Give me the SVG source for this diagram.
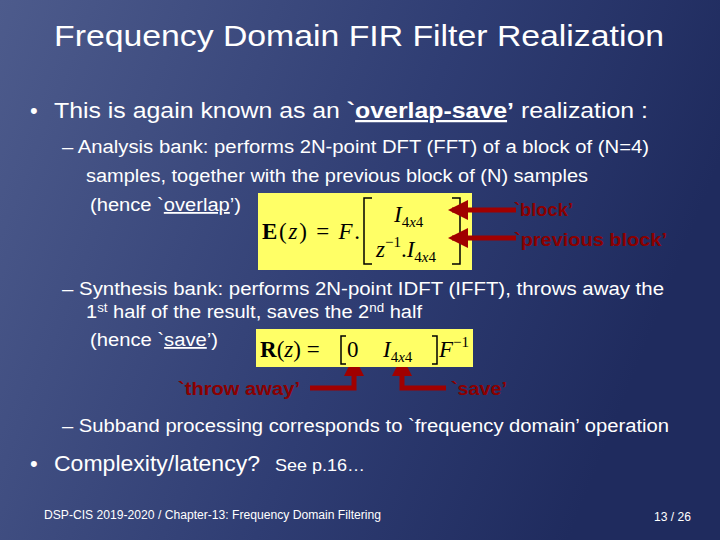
<svg xmlns="http://www.w3.org/2000/svg" width="720" height="540" viewBox="0 0 720 540">
<defs>
<linearGradient id="bg" x1="0" y1="0" x2="1" y2="0.3">
<stop offset="0" stop-color="#4d5b8c"/><stop offset="0.6" stop-color="#2f3d73"/><stop offset="1" stop-color="#1f2b5e"/>
</linearGradient>
<marker id="ah" viewBox="0 0 10 10" refX="8" refY="5" markerWidth="4" markerHeight="4.4" orient="auto"><path d="M0,0L10,5L0,10z" fill="#a00000"/></marker>
</defs>
<style>
.t{font-family:"Liberation Sans",Arial,sans-serif;fill:#fff}
.m{font-family:"Liberation Serif","Times New Roman",serif;fill:#000}
.r{font-family:"Liberation Sans",Arial,sans-serif;fill:#8b0000;font-weight:bold;font-size:18px}
.c{stroke:#a00000;stroke-width:5;fill:none}
</style>
<rect width="720" height="540" fill="url(#bg)"/>
<text class="t" x="54" y="46" font-size="30" textLength="610" lengthAdjust="spacingAndGlyphs">Frequency Domain FIR Filter Realization</text>
<text class="t" x="30" y="118" font-size="22">•</text>
<text class="t" x="54" y="118" font-size="22.5" textLength="594" lengthAdjust="spacingAndGlyphs">This is again known as an <tspan font-weight="bold">`<tspan text-decoration="underline">overlap-save</tspan>’</tspan> realization :</text>
<text class="t" x="62" y="153" font-size="18" textLength="587" lengthAdjust="spacingAndGlyphs">–  Analysis bank: performs 2N-point DFT (FFT) of a block of (N=4)</text>
<text class="t" x="86" y="182" font-size="18" textLength="502" lengthAdjust="spacingAndGlyphs">samples, together with the previous block of (N) samples</text>
<text class="t" x="90" y="211" font-size="18" textLength="151" lengthAdjust="spacingAndGlyphs">(hence `<tspan text-decoration="underline">overlap</tspan>’)</text>
<g id="eq1">
<rect x="258" y="193" width="214" height="77" fill="#ffff66"/>
<text class="m" x="262" y="239" font-size="23" textLength="98" lengthAdjust="spacing"><tspan font-weight="bold">E</tspan>(<tspan font-style="italic">z</tspan>) = <tspan font-style="italic">F</tspan>.</text>
<path d="M372,198h-8v66h8M452,198h8v66h-8" stroke="#000" stroke-width="1.5" fill="none"/>
<text class="m" x="394" y="222" font-size="23" font-style="italic">I<tspan font-size="15" dy="5" font-style="normal">4<tspan font-style="italic">x</tspan>4</tspan></text>
<text class="m" x="376" y="257" font-size="23" font-style="italic">z<tspan font-size="15" dy="-10" font-style="normal">−1</tspan><tspan dy="10" font-style="normal">.</tspan>I<tspan font-size="15" dy="5" font-style="normal">4<tspan font-style="italic">x</tspan>4</tspan></text>
<text class="m" x="462" y="238" font-size="16">.</text>
</g>
<g id="connectors">
<line class="c" x1="516" y1="210" x2="452" y2="210" marker-end="url(#ah)"/>
<line class="c" x1="516" y1="238" x2="452" y2="238" marker-end="url(#ah)"/>
<path class="c" d="M310,388H354V360" marker-end="url(#ah)"/>
<path class="c" d="M446,388H402V360" marker-end="url(#ah)"/>
</g>
<text class="r" x="514" y="216" textLength="59" lengthAdjust="spacingAndGlyphs">`block’</text>
<text class="r" x="514" y="246" textLength="153" lengthAdjust="spacingAndGlyphs">`previous block’</text>
<text class="t" x="62" y="295" font-size="18" textLength="602" lengthAdjust="spacingAndGlyphs">–  Synthesis bank:  performs 2N-point IDFT (IFFT), throws away the</text>
<text class="t" x="86" y="318" font-size="18" textLength="336" lengthAdjust="spacingAndGlyphs">1<tspan font-size="12" dy="-6">st</tspan><tspan dy="6"> half of the result, saves the 2</tspan><tspan font-size="12" dy="-6">nd</tspan><tspan dy="6"> half</tspan></text>
<text class="t" x="90" y="346" font-size="18" textLength="128" lengthAdjust="spacingAndGlyphs">(hence `<tspan text-decoration="underline">save</tspan>’)</text>
<g id="eq2">
<rect x="256" y="329" width="217" height="38" fill="#ffff66"/>
<text class="m" x="260" y="357" font-size="23"><tspan font-weight="bold">R</tspan>(<tspan font-style="italic">z</tspan>) = </text>
<path d="M346,336h-5v28h5M432,336h5v28h-5" stroke="#000" stroke-width="1.5" fill="none"/>
<text class="m" x="347" y="357" font-size="23">0</text>
<text class="m" x="383" y="357" font-size="23" font-style="italic">I<tspan font-size="15" dy="5" font-style="normal">4<tspan font-style="italic">x</tspan>4</tspan></text>
<text class="m" x="439" y="357" font-size="23" font-style="italic">F<tspan font-size="15" dy="-10" font-style="normal">−1</tspan></text>
</g>
<text class="r" x="178" y="395" textLength="122" lengthAdjust="spacingAndGlyphs">`throw away’</text>
<text class="r" x="451" y="395" textLength="56" lengthAdjust="spacingAndGlyphs">`save’</text>
<text class="t" x="62" y="432" font-size="18" textLength="607" lengthAdjust="spacingAndGlyphs">–  Subband processing corresponds to `frequency domain’ operation</text>
<text class="t" x="30" y="471" font-size="22">•</text>
<text class="t" x="54" y="471" font-size="22.5" textLength="206" lengthAdjust="spacingAndGlyphs">Complexity/latency?</text>
<text class="t" x="275" y="471" font-size="17" textLength="90" lengthAdjust="spacingAndGlyphs">See p.16…</text>
<text class="t" x="44" y="519" font-size="12" textLength="337" lengthAdjust="spacingAndGlyphs">DSP-CIS 2019-2020  /  Chapter-13: Frequency Domain Filtering</text>
<text class="t" x="654" y="521" font-size="12" textLength="37" lengthAdjust="spacingAndGlyphs">13 / 26</text>
</svg>
